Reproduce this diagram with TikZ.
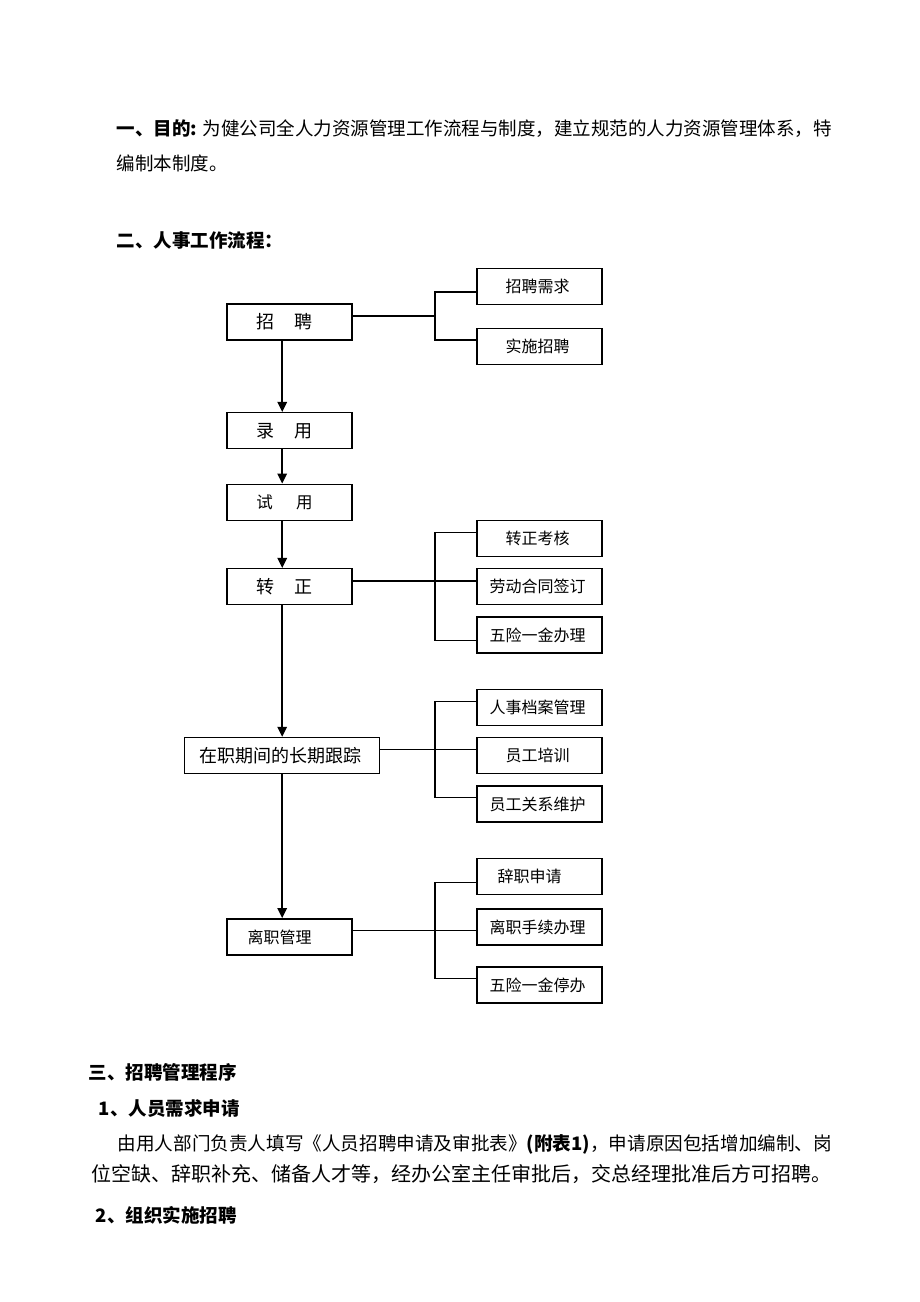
\documentclass[tikz,border=0pt]{standalone}
\usepackage{fontspec}
\setmainfont{Noto Sans CJK SC}
\usetikzlibrary{positioning,arrows.meta}

\begin{document}
\begin{tikzpicture}[x=1pt,y=-1pt,line width=1.5pt,
  main box/.style={draw,minimum width=125pt,minimum height=36pt,inner sep=0pt,font=\fontsize{18}{20}\selectfont},
  sub box/.style={draw,minimum width=125pt,minimum height=36pt,inner sep=0pt,font=\fontsize{16}{20}\selectfont},
  head text/.style={anchor=base west,inner sep=0pt,font=\fontsize{18.5}{22}\selectfont},
  body text/.style={anchor=base west,inner sep=0pt,font=\fontsize{18.6}{22}\selectfont},
  flow arrow/.style={-{Triangle[length=10pt,width=9.5pt]}}]

\useasboundingbox (0,0) rectangle (920,1302);
\fill[white] (0,0) rectangle (920,1302);

% texts above
\node[head text] (T1) at (116,135.5) {\textbf{一、目的:} 为健公司全人力资源管理工作流程与制度，建立规范的人力资源管理体系，特};
\node[head text] (T2) at (116,170) {编制本制度。};
\node[head text] (T3) at (116,247) {\textbf{二、人事工作流程：}};

% main column
\node[main box] (ZP) at (289.5,322) {招\hspace{1.1em}聘\hspace*{10pt}};
\node[main box] (LY) at (289.5,430.7) {录\hspace{1.1em}用\hspace*{10pt}};
\node[main box,font=\fontsize{16.5}{20}\selectfont] (SY) at (289.5,502.3) {试\hspace{1.4em}用\hspace*{10pt}};
\node[main box] (ZZ) at (289.5,586.7) {转\hspace{1.1em}正\hspace*{10pt}};
\node[main box,minimum width=195pt] (ZQ) at (282.2,755.5) {在职期间的长期跟踪\hspace*{4pt}};
\node[main box,font=\fontsize{16}{20}\selectfont] (LZ) at (289.5,936.9) {离职管理\hspace*{20pt}};

% right column
\node[sub box] (ZP1) at (539.5,286.5) {招聘需求\hspace*{4pt}};
\node[sub box] (ZP2) at (539.5,346.3) {实施招聘\hspace*{4pt}};
\node[sub box] (ZZ1) at (539.5,538.7) {转正考核\hspace*{4pt}};
\node[sub box] (ZZ2) at (539.5,586.7) {劳动合同签订\hspace*{4pt}};
\node[sub box] (ZZ3) at (539.5,635) {五险一金办理\hspace*{4pt}};
\node[sub box] (ZQ1) at (539.5,707.3) {人事档案管理\hspace*{4pt}};
\node[sub box] (ZQ2) at (539.5,755.7) {员工培训\hspace*{4pt}};
\node[sub box] (ZQ3) at (539.5,804) {员工关系维护\hspace*{4pt}};
\node[sub box] (LZ1) at (539.5,876.5) {辞职申请\hspace*{20pt}};
\node[sub box] (LZ2) at (539.5,927) {离职手续办理\hspace*{4pt}};
\node[sub box] (LZ3) at (539.5,985.2) {五险一金停办\hspace*{4pt}};

% arrows down the column
\path[flow arrow]
    (ZP.south -| ZQ) edge (LY.north -| ZQ)
    (LY.south -| ZQ) edge (SY.north -| ZQ)
    (SY.south -| ZQ) edge (ZZ.north -| ZQ)
    (ZZ.south -| ZQ) edge (ZQ.north)
    (ZQ.south) edge (LZ.north -| ZQ);

% brackets
\coordinate (J1) at (435,316);
\coordinate (J2) at (435,581);
\coordinate (J3) at (435,749.3);
\coordinate (J4) at (435,930.7);

\draw (ZP.east |- J1) -- (J1);
\draw ([yshift=-5.5pt]ZP1.west) -| (J1) |- ([yshift=6.3pt]ZP2.west);

\draw (ZZ.east |- J2) -- ([yshift=5.7pt]ZZ2.west);
\draw ([yshift=6pt]ZZ1.west) -| (J2) |- ([yshift=-5.3pt]ZZ3.west);

\draw (ZQ.east |- J3) -- ([yshift=6.4pt]ZQ2.west);
\draw ([yshift=6pt]ZQ1.west) -| (J3) |- ([yshift=6.3pt]ZQ3.west);

\draw (LZ.east |- J4) -- ([yshift=-3.7pt]LZ2.west);
\draw ([yshift=-5.8pt]LZ1.west) -| (J4) |- ([yshift=6.5pt]LZ3.west);

% texts below
\node[head text] (T4) at (88,1079) {\textbf{三、招聘管理程序}};
\node[head text] (T5) at (98,1115) {\textbf{1、人员需求申请}};
\node[body text] (T6) at (117,1150.6) {由用人部门负责人填写《人员招聘申请及审批表》\textbf{(附表1)}，申请原因包括增加编制、岗};
\node[body text,font=\fontsize{20}{22}\selectfont] (T7) at (91,1181.6) {位空缺、辞职补充、储备人才等，经办公室主任审批后，交总经理批准后方可招聘。};
\node[head text] (T8) at (95,1222) {\textbf{2、组织实施招聘}};
\end{tikzpicture}
\end{document}
